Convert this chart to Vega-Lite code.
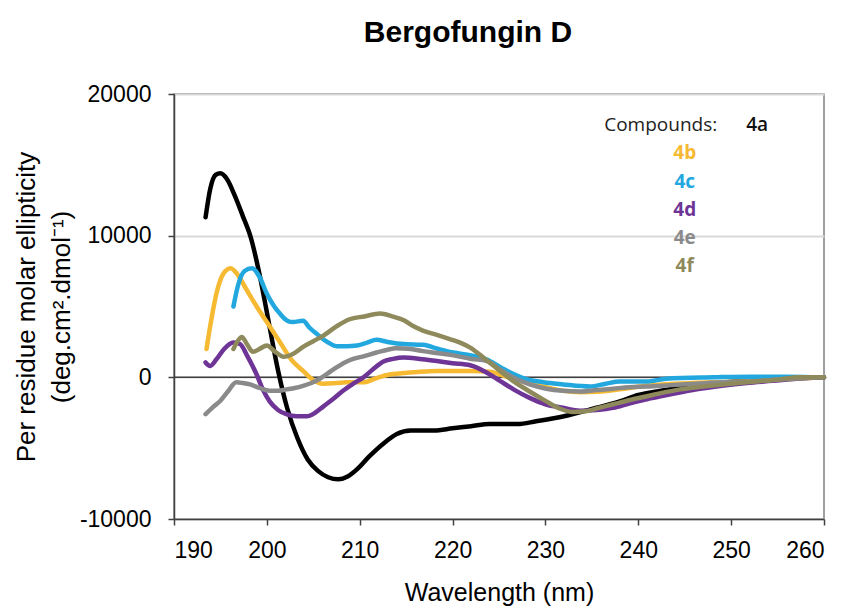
{
  "$schema": "https://vega.github.io/schema/vega-lite/v6.json",
  "width": 650,
  "height": 425,
  "autosize": {"type": "none"},
  "padding": {"left": 174, "top": 94, "right": 27, "bottom": 95},
  "background": "white",
  "title": {
    "text": "Bergofungin D",
    "font": "Liberation Sans",
    "fontSize": 30,
    "fontWeight": "bold",
    "color": "#000000",
    "anchor": "middle",
    "dx": -31,
    "offset": 35
  },
  "config": {
    "view": {"stroke": "#808080", "strokeWidth": 1.5},
    "axis": {
      "labelFont": "Liberation Sans",
      "titleFont": "Liberation Sans",
      "labelColor": "#000000",
      "titleColor": "#000000",
      "titleFontWeight": "normal",
      "domainColor": "#404040",
      "domainWidth": 1.5,
      "tickColor": "#404040",
      "tickWidth": 1.5,
      "tickSize": 6
    }
  },
  "datasets": {
    "curves": [
      {"series": "4a", "wl": 193.4, "val": 11300}, {"series": "4a", "wl": 193.9, "val": 13300}, {"series": "4a", "wl": 194.5, "val": 14300}, {"series": "4a", "wl": 195.0, "val": 14400}, {"series": "4a", "wl": 195.7, "val": 14000}, {"series": "4a", "wl": 196.5, "val": 12900}, {"series": "4a", "wl": 197.4, "val": 11400}, {"series": "4a", "wl": 198.3, "val": 9800}, {"series": "4a", "wl": 199.2, "val": 7300}, {"series": "4a", "wl": 200.2, "val": 3900}, {"series": "4a", "wl": 201.2, "val": 500}, {"series": "4a", "wl": 202.2, "val": -2200}, {"series": "4a", "wl": 203.3, "val": -4300}, {"series": "4a", "wl": 204.4, "val": -5800}, {"series": "4a", "wl": 205.5, "val": -6600}, {"series": "4a", "wl": 206.6, "val": -7050}, {"series": "4a", "wl": 207.7, "val": -7200}, {"series": "4a", "wl": 208.7, "val": -7000}, {"series": "4a", "wl": 209.7, "val": -6500}, {"series": "4a", "wl": 211, "val": -5600}, {"series": "4a", "wl": 212.5, "val": -4700}, {"series": "4a", "wl": 214, "val": -4000}, {"series": "4a", "wl": 215.5, "val": -3750}, {"series": "4a", "wl": 218, "val": -3750}, {"series": "4a", "wl": 220, "val": -3600}, {"series": "4a", "wl": 222, "val": -3450}, {"series": "4a", "wl": 224, "val": -3300}, {"series": "4a", "wl": 227, "val": -3300}, {"series": "4a", "wl": 229, "val": -3100}, {"series": "4a", "wl": 232, "val": -2750}, {"series": "4a", "wl": 235.5, "val": -2150}, {"series": "4a", "wl": 238, "val": -1700}, {"series": "4a", "wl": 240, "val": -1250}, {"series": "4a", "wl": 242, "val": -1000}, {"series": "4a", "wl": 245, "val": -700}, {"series": "4a", "wl": 248, "val": -450}, {"series": "4a", "wl": 251, "val": -250}, {"series": "4a", "wl": 254, "val": -100}, {"series": "4a", "wl": 257, "val": -50}, {"series": "4a", "wl": 260, "val": 0},

      {"series": "4b", "wl": 193.5, "val": 2000}, {"series": "4b", "wl": 194, "val": 4000}, {"series": "4b", "wl": 194.6, "val": 6000}, {"series": "4b", "wl": 195.3, "val": 7300}, {"series": "4b", "wl": 196.1, "val": 7700}, {"series": "4b", "wl": 196.9, "val": 7200}, {"series": "4b", "wl": 197.8, "val": 6200}, {"series": "4b", "wl": 198.9, "val": 5000}, {"series": "4b", "wl": 200, "val": 3900}, {"series": "4b", "wl": 201.4, "val": 2500}, {"series": "4b", "wl": 202.7, "val": 1200}, {"series": "4b", "wl": 203.9, "val": 450}, {"series": "4b", "wl": 205, "val": -200}, {"series": "4b", "wl": 206.1, "val": -450}, {"series": "4b", "wl": 207.5, "val": -400}, {"series": "4b", "wl": 208.6, "val": -350}, {"series": "4b", "wl": 210.4, "val": -350}, {"series": "4b", "wl": 211.8, "val": -50}, {"series": "4b", "wl": 213.2, "val": 200}, {"series": "4b", "wl": 214.7, "val": 300}, {"series": "4b", "wl": 216.5, "val": 400}, {"series": "4b", "wl": 218.3, "val": 450}, {"series": "4b", "wl": 220, "val": 450}, {"series": "4b", "wl": 222, "val": 450}, {"series": "4b", "wl": 224, "val": 400}, {"series": "4b", "wl": 226, "val": 0}, {"series": "4b", "wl": 227.6, "val": -250}, {"series": "4b", "wl": 229.5, "val": -600}, {"series": "4b", "wl": 231.9, "val": -950}, {"series": "4b", "wl": 233.7, "val": -1050}, {"series": "4b", "wl": 236, "val": -1000}, {"series": "4b", "wl": 238, "val": -850}, {"series": "4b", "wl": 240.9, "val": -600}, {"series": "4b", "wl": 244, "val": -450}, {"series": "4b", "wl": 248, "val": -350}, {"series": "4b", "wl": 251, "val": -300}, {"series": "4b", "wl": 254, "val": -200}, {"series": "4b", "wl": 257, "val": -100}, {"series": "4b", "wl": 260, "val": 0},

      {"series": "4c", "wl": 196.4, "val": 5000}, {"series": "4c", "wl": 196.9, "val": 6500}, {"series": "4c", "wl": 197.6, "val": 7500}, {"series": "4c", "wl": 198.4, "val": 7700}, {"series": "4c", "wl": 199.2, "val": 7100}, {"series": "4c", "wl": 200, "val": 5900}, {"series": "4c", "wl": 200.8, "val": 5000}, {"series": "4c", "wl": 201.4, "val": 4500}, {"series": "4c", "wl": 202.2, "val": 4000}, {"series": "4c", "wl": 202.8, "val": 3900}, {"series": "4c", "wl": 203.9, "val": 4000}, {"series": "4c", "wl": 204.6, "val": 3500}, {"series": "4c", "wl": 205.4, "val": 3050}, {"series": "4c", "wl": 206.5, "val": 2500}, {"series": "4c", "wl": 207.5, "val": 2200}, {"series": "4c", "wl": 208.6, "val": 2200}, {"series": "4c", "wl": 209.7, "val": 2250}, {"series": "4c", "wl": 210.8, "val": 2450}, {"series": "4c", "wl": 211.8, "val": 2650}, {"series": "4c", "wl": 213, "val": 2500}, {"series": "4c", "wl": 214.7, "val": 2350}, {"series": "4c", "wl": 216.8, "val": 2300}, {"series": "4c", "wl": 218.5, "val": 2000}, {"series": "4c", "wl": 220.1, "val": 1750}, {"series": "4c", "wl": 222, "val": 1550}, {"series": "4c", "wl": 223.7, "val": 1250}, {"series": "4c", "wl": 225.2, "val": 700}, {"series": "4c", "wl": 226.5, "val": 250}, {"series": "4c", "wl": 227.6, "val": -50}, {"series": "4c", "wl": 229.8, "val": -350}, {"series": "4c", "wl": 231.9, "val": -500}, {"series": "4c", "wl": 234.8, "val": -650}, {"series": "4c", "wl": 236.5, "val": -450}, {"series": "4c", "wl": 238, "val": -300}, {"series": "4c", "wl": 240.9, "val": -300}, {"series": "4c", "wl": 243, "val": -100}, {"series": "4c", "wl": 248.1, "val": 0}, {"series": "4c", "wl": 252, "val": 50}, {"series": "4c", "wl": 256, "val": 50}, {"series": "4c", "wl": 260, "val": 0},

      {"series": "4d", "wl": 193.4, "val": 1050}, {"series": "4d", "wl": 193.9, "val": 800}, {"series": "4d", "wl": 194.6, "val": 1300}, {"series": "4d", "wl": 195.4, "val": 2000}, {"series": "4d", "wl": 196.4, "val": 2450}, {"series": "4d", "wl": 197.1, "val": 2350}, {"series": "4d", "wl": 197.9, "val": 1500}, {"series": "4d", "wl": 198.9, "val": 200}, {"series": "4d", "wl": 199.6, "val": -900}, {"series": "4d", "wl": 200.3, "val": -1700}, {"series": "4d", "wl": 201.2, "val": -2300}, {"series": "4d", "wl": 202.1, "val": -2600}, {"series": "4d", "wl": 203.2, "val": -2750}, {"series": "4d", "wl": 204.3, "val": -2750}, {"series": "4d", "wl": 205.2, "val": -2500}, {"series": "4d", "wl": 206.1, "val": -2050}, {"series": "4d", "wl": 207.2, "val": -1500}, {"series": "4d", "wl": 208.2, "val": -950}, {"series": "4d", "wl": 209.3, "val": -450}, {"series": "4d", "wl": 210.4, "val": 0}, {"series": "4d", "wl": 211.4, "val": 550}, {"series": "4d", "wl": 212.5, "val": 1100}, {"series": "4d", "wl": 213.6, "val": 1300}, {"series": "4d", "wl": 214.7, "val": 1400}, {"series": "4d", "wl": 216.5, "val": 1300}, {"series": "4d", "wl": 218.3, "val": 1150}, {"series": "4d", "wl": 220, "val": 1000}, {"series": "4d", "wl": 221.9, "val": 850}, {"series": "4d", "wl": 223.5, "val": 400}, {"series": "4d", "wl": 225.1, "val": -250}, {"series": "4d", "wl": 226.7, "val": -900}, {"series": "4d", "wl": 228.3, "val": -1450}, {"series": "4d", "wl": 230, "val": -1900}, {"series": "4d", "wl": 231.9, "val": -2150}, {"series": "4d", "wl": 233.7, "val": -2350}, {"series": "4d", "wl": 235.5, "val": -2300}, {"series": "4d", "wl": 237.3, "val": -2150}, {"series": "4d", "wl": 239, "val": -1850}, {"series": "4d", "wl": 240.9, "val": -1550}, {"series": "4d", "wl": 243.5, "val": -1200}, {"series": "4d", "wl": 246.3, "val": -850}, {"series": "4d", "wl": 249, "val": -600}, {"series": "4d", "wl": 251.7, "val": -400}, {"series": "4d", "wl": 254.5, "val": -250}, {"series": "4d", "wl": 257, "val": -100}, {"series": "4d", "wl": 260, "val": 0},

      {"series": "4e", "wl": 193.4, "val": -2600}, {"series": "4e", "wl": 194.2, "val": -2100}, {"series": "4e", "wl": 195, "val": -1650}, {"series": "4e", "wl": 195.8, "val": -1000}, {"series": "4e", "wl": 196.7, "val": -350}, {"series": "4e", "wl": 197.4, "val": -400}, {"series": "4e", "wl": 198.2, "val": -500}, {"series": "4e", "wl": 199.2, "val": -750}, {"series": "4e", "wl": 200.3, "val": -950}, {"series": "4e", "wl": 201.2, "val": -950}, {"series": "4e", "wl": 202.1, "val": -850}, {"series": "4e", "wl": 203, "val": -750}, {"series": "4e", "wl": 203.9, "val": -600}, {"series": "4e", "wl": 204.8, "val": -400}, {"series": "4e", "wl": 205.7, "val": -100}, {"series": "4e", "wl": 206.6, "val": 300}, {"series": "4e", "wl": 207.5, "val": 700}, {"series": "4e", "wl": 208.4, "val": 1050}, {"series": "4e", "wl": 209.3, "val": 1300}, {"series": "4e", "wl": 210.5, "val": 1500}, {"series": "4e", "wl": 211.8, "val": 1750}, {"series": "4e", "wl": 213, "val": 1950}, {"series": "4e", "wl": 213.9, "val": 2050}, {"series": "4e", "wl": 215.5, "val": 2000}, {"series": "4e", "wl": 216.8, "val": 1850}, {"series": "4e", "wl": 218.5, "val": 1700}, {"series": "4e", "wl": 220.1, "val": 1550}, {"series": "4e", "wl": 222, "val": 1300}, {"series": "4e", "wl": 223.7, "val": 1150}, {"series": "4e", "wl": 225, "val": 600}, {"series": "4e", "wl": 226.5, "val": 0}, {"series": "4e", "wl": 228.3, "val": -500}, {"series": "4e", "wl": 230.1, "val": -800}, {"series": "4e", "wl": 231.9, "val": -950}, {"series": "4e", "wl": 233.7, "val": -1000}, {"series": "4e", "wl": 235.5, "val": -900}, {"series": "4e", "wl": 237.3, "val": -800}, {"series": "4e", "wl": 239, "val": -700}, {"series": "4e", "wl": 240.9, "val": -650}, {"series": "4e", "wl": 243.5, "val": -550}, {"series": "4e", "wl": 246.3, "val": -450}, {"series": "4e", "wl": 249, "val": -350}, {"series": "4e", "wl": 251.7, "val": -300}, {"series": "4e", "wl": 255, "val": -150}, {"series": "4e", "wl": 260, "val": 0},

      {"series": "4f", "wl": 196.4, "val": 2000}, {"series": "4f", "wl": 196.9, "val": 2600}, {"series": "4f", "wl": 197.3, "val": 2850}, {"series": "4f", "wl": 197.9, "val": 2300}, {"series": "4f", "wl": 198.5, "val": 1800}, {"series": "4f", "wl": 199.2, "val": 2000}, {"series": "4f", "wl": 200, "val": 2250}, {"series": "4f", "wl": 200.9, "val": 1800}, {"series": "4f", "wl": 201.8, "val": 1450}, {"series": "4f", "wl": 202.8, "val": 1650}, {"series": "4f", "wl": 203.9, "val": 2150}, {"series": "4f", "wl": 205, "val": 2550}, {"series": "4f", "wl": 206.1, "val": 2950}, {"series": "4f", "wl": 207.5, "val": 3600}, {"series": "4f", "wl": 208.9, "val": 4100}, {"series": "4f", "wl": 210.5, "val": 4300}, {"series": "4f", "wl": 212.2, "val": 4500}, {"series": "4f", "wl": 213.5, "val": 4300}, {"series": "4f", "wl": 214.7, "val": 4050}, {"series": "4f", "wl": 215.8, "val": 3600}, {"series": "4f", "wl": 216.8, "val": 3300}, {"series": "4f", "wl": 218.3, "val": 3000}, {"series": "4f", "wl": 219.7, "val": 2700}, {"series": "4f", "wl": 221, "val": 2400}, {"series": "4f", "wl": 221.9, "val": 2100}, {"series": "4f", "wl": 223.5, "val": 1300}, {"series": "4f", "wl": 225.1, "val": 450}, {"series": "4f", "wl": 226.5, "val": -250}, {"series": "4f", "wl": 228.3, "val": -1000}, {"series": "4f", "wl": 230.1, "val": -1700}, {"series": "4f", "wl": 231.5, "val": -2200}, {"series": "4f", "wl": 233, "val": -2450}, {"series": "4f", "wl": 234.3, "val": -2400}, {"series": "4f", "wl": 235.5, "val": -2200}, {"series": "4f", "wl": 237.3, "val": -1900}, {"series": "4f", "wl": 239.1, "val": -1600}, {"series": "4f", "wl": 241.5, "val": -1250}, {"series": "4f", "wl": 244.5, "val": -850}, {"series": "4f", "wl": 247, "val": -650}, {"series": "4f", "wl": 249.9, "val": -450}, {"series": "4f", "wl": 252.5, "val": -300}, {"series": "4f", "wl": 255.2, "val": -150}, {"series": "4f", "wl": 257.3, "val": 0}, {"series": "4f", "wl": 260, "val": 0}
    ],
    "labels": [
      {"series": "4b", "wl": 245.0, "val": 15815},
      {"series": "4c", "wl": 245.0, "val": 13810},
      {"series": "4d", "wl": 245.0, "val": 11810},
      {"series": "4e", "wl": 245.0, "val": 9810},
      {"series": "4f", "wl": 245.0, "val": 7880}
    ],
    "header": [
      {"series": "Compounds:", "wl": 248.5, "val": 17800}
    ],
    "first": [
      {"series": "4a", "wl": 252.8, "val": 17800}
    ]
  },
  "layer": [
    {
      "data": {"values": [{"zero": 0}]},
      "mark": {"type": "rule", "color": "#404040", "strokeWidth": 1.5},
      "encoding": {"y": {"field": "zero", "type": "quantitative", "scale": {"domain": [-10000, 20000]}}}
    },
    {
      "data": {"name": "curves"},
      "mark": {"type": "line", "strokeWidth": 4.5, "interpolate": "monotone", "strokeCap": "round", "strokeJoin": "round"},
      "encoding": {
        "x": {
          "field": "wl", "type": "quantitative",
          "scale": {"domain": [190, 260], "nice": false, "zero": false},
          "axis": {
            "values": [190, 200, 210, 220, 230, 240, 250, 260],
            "grid": false,
            "title": "Wavelength (nm)",
            "labelFontSize": 23,
            "labelPadding": 14,
            "titleFontSize": 25,
            "titlePadding": 18
          }
        },
        "y": {
          "field": "val", "type": "quantitative",
          "scale": {"domain": [-10000, 20000], "nice": false},
          "axis": {
            "values": [-10000, 0, 10000, 20000],
            "labelExpr": "datum.value < 0 ? '-' + abs(datum.value) : '' + datum.value",
            "grid": true,
            "gridColor": "#d9d9d9",
            "gridWidth": 2,
            "title": ["Per residue molar ellipticity", "(deg.cm².dmol⁻¹)"],
            "labelFontSize": 23,
            "labelPadding": 17,
            "titleFontSize": 26,
            "titleLineHeight": 35,
            "titlePadding": 5
          }
        },
        "color": {
          "field": "series", "type": "nominal",
          "scale": {"domain": ["4a", "4b", "4c", "4d", "4e", "4f"], "range": ["#000000", "#F5B932", "#22A8DE", "#6E3597", "#8A8A8A", "#8F8A5C"]},
          "legend": null
        }
      }
    },
    {
      "data": {"name": "labels"},
      "mark": {"type": "text", "font": "Open Sans", "fontSize": 19, "fontWeight": "bold", "align": "center", "baseline": "middle"},
      "encoding": {
        "x": {"field": "wl", "type": "quantitative"},
        "y": {"field": "val", "type": "quantitative"},
        "text": {"field": "series"},
        "color": {"field": "series", "type": "nominal", "legend": null}
      }
    },
    {
      "data": {"name": "header"},
      "mark": {"type": "text", "font": "Open Sans", "fontSize": 19, "align": "right", "baseline": "middle", "color": "#222222"},
      "encoding": {
        "x": {"field": "wl", "type": "quantitative"},
        "y": {"field": "val", "type": "quantitative"},
        "text": {"field": "series"}
      }
    },
    {
      "data": {"name": "first"},
      "mark": {"type": "text", "font": "Open Sans", "fontSize": 19, "fontWeight": 600, "align": "center", "baseline": "middle", "color": "#111111"},
      "encoding": {
        "x": {"field": "wl", "type": "quantitative"},
        "y": {"field": "val", "type": "quantitative"},
        "text": {"field": "series"}
      }
    }
  ]
}
